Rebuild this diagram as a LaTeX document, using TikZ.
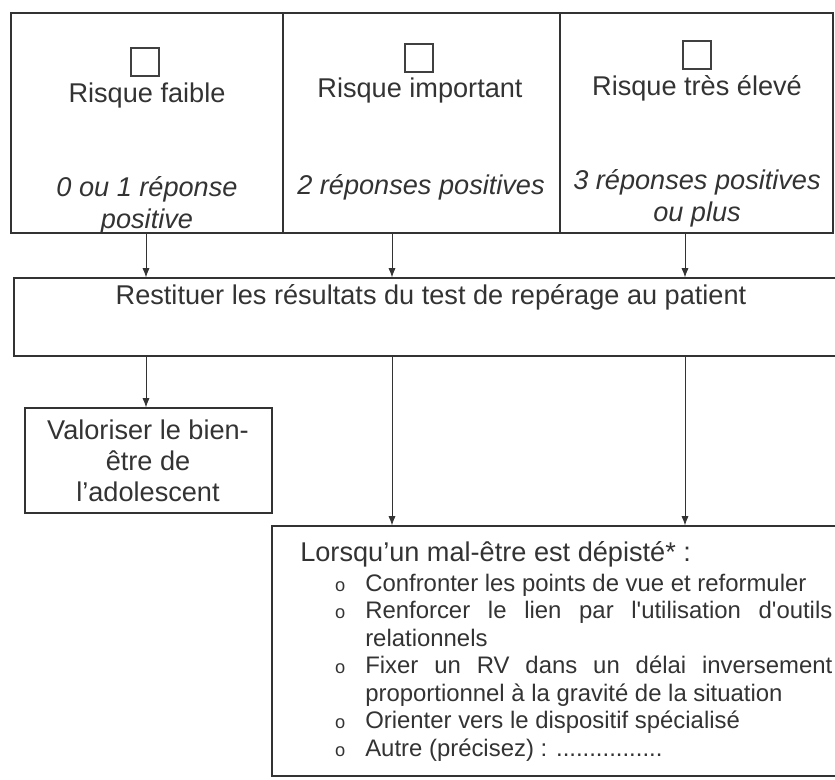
\documentclass[tikz,border=0pt]{standalone}
\usepackage{fontspec}
\setmainfont{Liberation Sans}[Ligatures=TeXOff]
\usepackage{xcolor}
\usepackage{tikz}
\usetikzlibrary{calc,arrows.meta}
\hyphenpenalty=10000
\exhyphenpenalty=10000
\newcommand{\puce}[1]{\noindent\llap{{\fontsize{13}{13}\selectfont o}\hspace{0.5cm}}#1\par}

\begin{document}
\begin{tikzpicture}[x=0.025cm,y=-0.025cm,
	cadre/.style 2 args={draw=black!80,line width=0.9pt,minimum width=#1,minimum height=#2,inner sep=0pt},
	case/.style={draw=black!75,line width=0.8pt,minimum size=0.7cm,inner sep=0pt},
	titre/.style={text=black!80,font=\fontsize{19.3}{22}\selectfont},
	detail/.style={text=black!80,font=\fontsize{19.3}{22.8}\selectfont\itshape,align=center},
	fleche/.style={draw=black!80,line width=0.6pt,-{Latex[length=6.5pt,width=5pt]}}]
						\useasboundingbox (0,0) rectangle (835,779);
						\clip (0,0) rectangle (835,779);
						
						\coordinate (k1) at (146,0);
						\coordinate (k2) at (392,0);
						\coordinate (k3) at (685,0);
						
						\node[cadre={6.8cm}{5.5cm}] (faible) at (147,123) {};
						\node[cadre={6.925cm}{5.5cm}] (important) at (421.5,123) {};
						\node[cadre={6.825cm}{5.5cm}] (eleve) at (696.5,123) {};
						\node[cadre={21.15cm}{1.95cm}] (restituer) at (437,317) {};
						\node[cadre={6.175cm}{2.625cm}] (valoriser) at (148.5,460.5) {};
						\node[cadre={14.7cm}{6.25cm}] (depiste) at (566,651) {};
						
						\node[case] (cf) at (145,62) {};
						\node[case] (ci) at (419,58) {};
						\node[case] (ce) at (697,55) {};
						
						\node[titre] (tf) at (147,95) {Risque faible};
						\node[titre] (ti) at (420,90) {Risque important};
						\node[titre] (te) at (697,88) {Risque très élevé};
						
						\node[detail] (df) at (147,205) {0 ou 1 réponse\\positive};
						\node[detail] (di) at (421,187) {2 réponses positives};
						\node[detail] (de) at (697,198) {3 réponses positives\\ou plus};
						
						\node[titre] (tr) at (431,297) {Restituer les résultats du test de repérage au patient};
						\node[titre,align=center] (tv) at (148,461) {Valoriser le bien-\\être de\\l’adolescent};
						
						\node[titre,anchor=base west,inner sep=0pt] (tl) at (300,561) {Lorsqu’un mal-être est dépisté* :};
						\node[anchor=base west,inner sep=0pt,text width=11.675cm,align=justify,text=black!80,
							font=\fontsize{17}{19.6}\selectfont] (items) at (365,591) {%
							\puce{Confronter les points de vue et reformuler}%
							\puce{Renforcer le lien par l'utilisation d'outils\linebreak relationnels}%
							\puce{Fixer un RV dans un délai inversement\linebreak proportionnel à la gravité de la situation}%
							\puce{Orienter vers le dispositif spécialisé}%
							\puce{Autre (précisez) : ................}};
						
						\draw[fleche] (faible.south -| k1) -- (restituer.north -| k1);
						\draw[fleche] (important.south -| k2) -- (restituer.north -| k2);
						\draw[fleche] (eleve.south -| k3) -- (restituer.north -| k3);
						\draw[fleche] (restituer.south -| k1) -- (valoriser.north -| k1);
						\draw[fleche] (restituer.south -| k2) -- (depiste.north -| k2);
						\draw[fleche] (restituer.south -| k3) -- (depiste.north -| k3);
					\end{tikzpicture}
\end{document}
